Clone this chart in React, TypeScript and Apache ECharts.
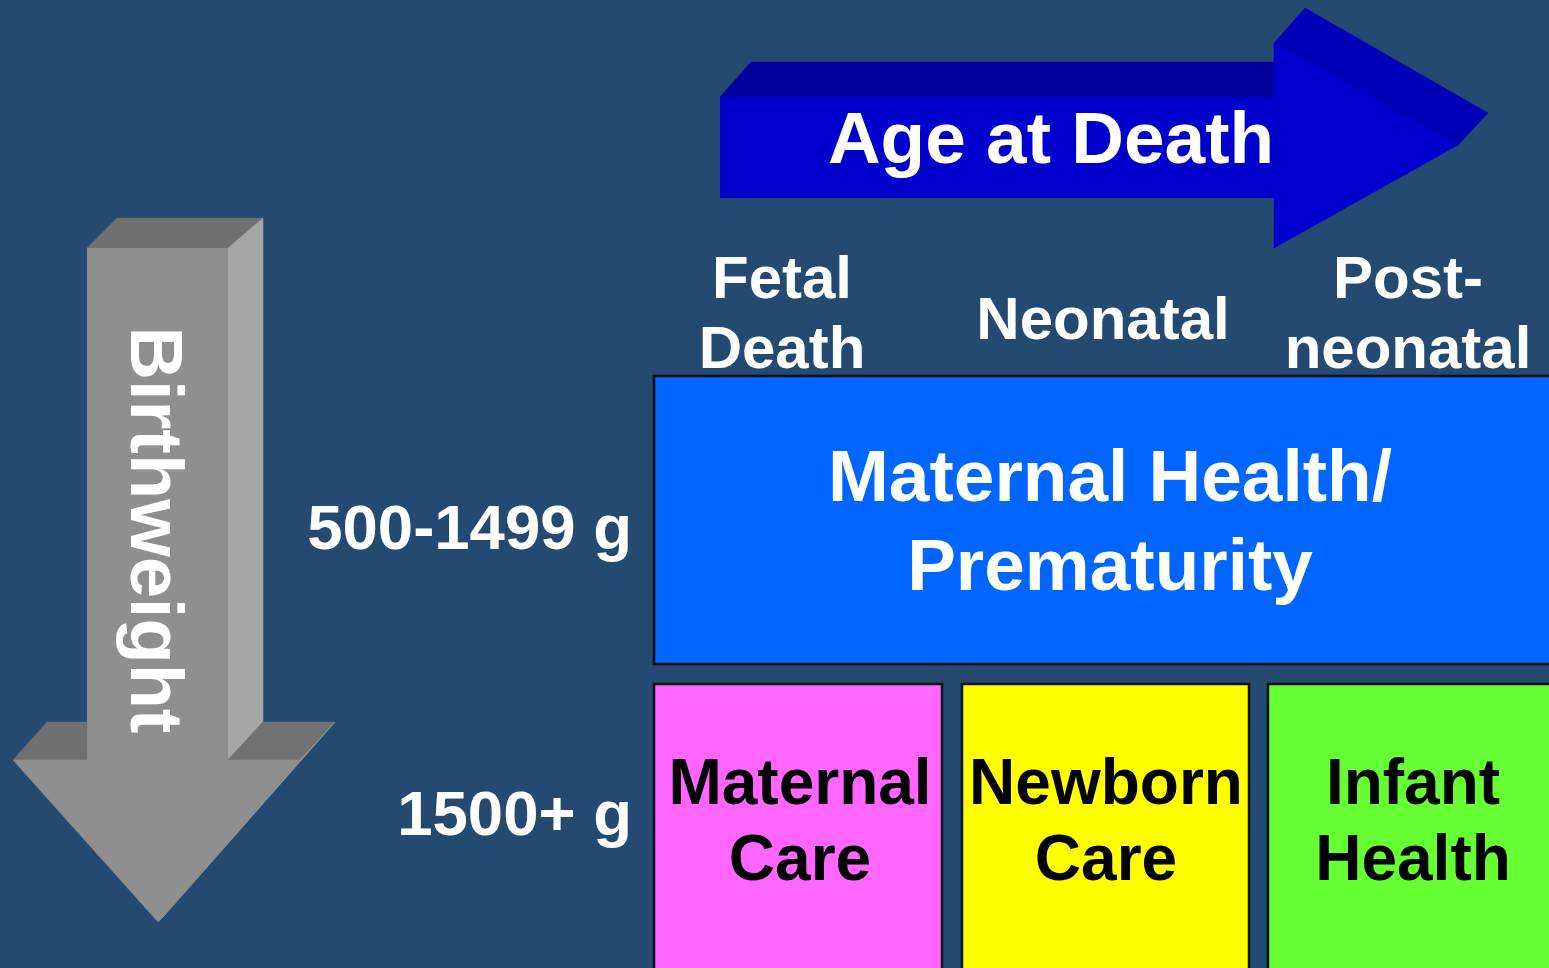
import React, { useEffect, useRef } from "react";
import * as echarts from "echarts";

const axisTitles = ["Age at Death", "Birthweight"];
const ageCategories = ["Fetal\nDeath", "Neonatal", "Post-\nneonatal"];
const weightCategories = ["500-1499 g", "1500+ g"];
const topBoxLabel = ["Maternal Health/\nPrematurity"];
const bottomBoxLabels = ["Maternal\nCare", "Newborn\nCare", "Infant\nHealth"];
const bottomBoxColors = ["#ff66ff", "#ffff00", "#66ff33"];

const FONT = "'Liberation Sans', Arial, Helvetica, sans-serif";

export default function App() {
  const ref = useRef<HTMLDivElement>(null);
  useEffect(() => {
    document.body.style.margin = "0";
    const chart = echarts.init(ref.current!, null, { renderer: "svg" });
    const txt = (
      text: string,
      x: number,
      y: number,
      size: number,
      fill: string,
      extra: any = {}
    ) => ({
      type: "text",
      x,
      y,
      z: 10,
      ...(extra.el || {}),
      style: {
        text,
        fill,
        fontSize: size,
        fontWeight: "bold",
        fontFamily: FONT,
        align: "center",
        verticalAlign: "middle",
        ...(extra.style || {}),
      },
    });
    const poly = (points: number[][], fill: string) => ({
      type: "polygon",
      shape: { points },
      style: { fill, stroke: fill, lineWidth: 0.5 },
    });

    const colX = [782, 1103, 1408];
    const colY = [312, 318, 312];
    const boxX = [654, 962, 1268];
    const boxW = [288, 287, 300];
    const boxTextX = [800, 1106, 1413];

    const elements: any[] = [
      // blue arrow (Age at Death)
      poly([[720, 97], [751, 62], [1274, 62], [1274, 97]], "#00009c"),
      { type: "rect", shape: { x: 720, y: 97, width: 554, height: 101 }, style: { fill: "#0000cc" } },
      poly([[1274, 43], [1305, 8], [1488, 113], [1458, 145]], "#0000b8"),
      poly([[1274, 43], [1458, 145], [1274, 248]], "#0000cc"),
      txt(axisTitles[0], 1051, 137, 73, "#ffffff"),
      // gray arrow (Birthweight)
      poly([[87, 248], [117, 218], [263, 218], [228, 248]], "#707070"),
      poly([[228, 248], [263, 218], [263, 722], [228, 760]], "#a6a6a6"),
      { type: "rect", shape: { x: 87, y: 248, width: 141, height: 512 }, style: { fill: "#8f8f8f" } },
      poly([[13, 760], [47, 722], [87, 722], [87, 760]], "#707070"),
      poly([[228, 760], [263, 722], [335, 722], [300, 760]], "#717171"),
      poly([[300, 760], [335, 722], [164, 916], [158, 922]], "#a2a2a2"),
      poly([[13, 760], [300, 760], [158, 922]], "#8f8f8f"),
      txt(axisTitles[1], 156, 530, 74, "#ffffff", { el: { rotation: -Math.PI / 2 } }),
      // top box
      {
        type: "rect",
        shape: { x: 654, y: 376, width: 920, height: 288 },
        style: { fill: "#0066ff", stroke: "#111111", lineWidth: 2.5 },
      },
      txt(topBoxLabel[0], 1110, 520, 73, "#ffffff", { style: { lineHeight: 89 } }),
    ];
    ageCategories.forEach((c, i) => {
      elements.push(txt(c, colX[i], colY[i], 60, "#ffffff", { style: { lineHeight: 70 } }));
    });
    const rowY = [527, 813];
    weightCategories.forEach((c, i) => {
      elements.push(txt(c, 632, rowY[i], 63.5, "#ffffff", { style: { align: "right" } }));
    });
    bottomBoxLabels.forEach((c, i) => {
      elements.push({
        type: "rect",
        shape: { x: boxX[i], y: 684, width: boxW[i], height: 300 },
        style: { fill: bottomBoxColors[i], stroke: "#111111", lineWidth: 2.5 },
      });
      elements.push(txt(c, boxTextX[i], 820, 64, "#000000", { style: { lineHeight: 76 } }));
    });

    chart.setOption({
      animation: false,
      backgroundColor: "#244a72",
      graphic: { elements },
    });
    return () => chart.dispose();
  }, []);
  return (
    <div
      ref={ref}
      style={{ position: "absolute", left: 0, top: 0, width: 1549, height: 968 }}
    />
  );
}
